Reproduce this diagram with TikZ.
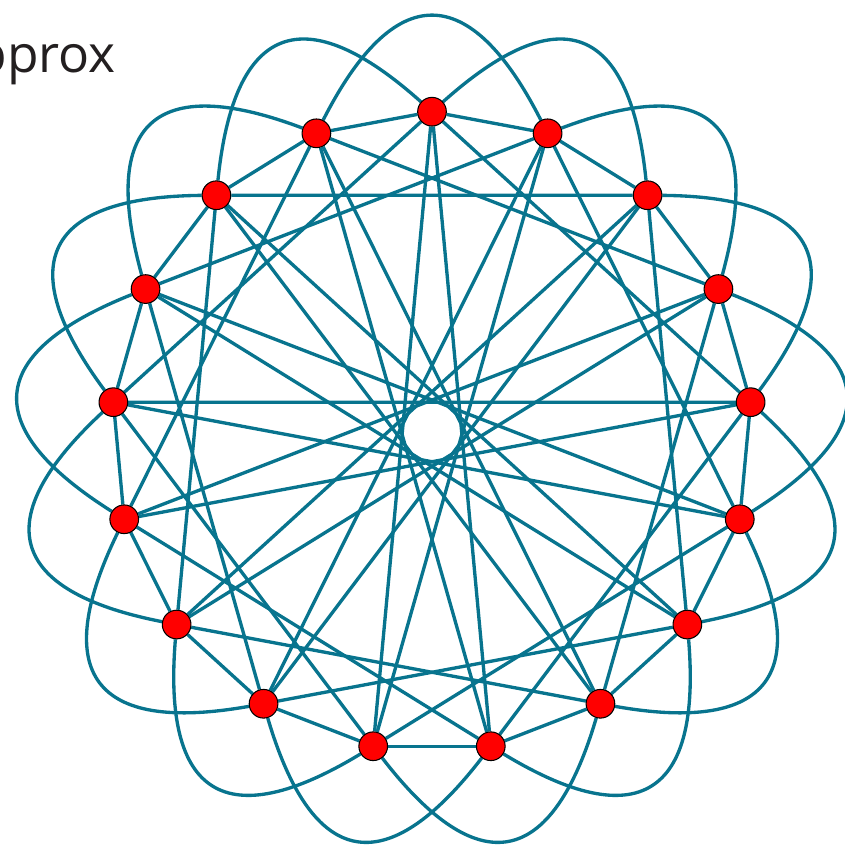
\documentclass[tikz,border=0pt]{standalone}
\usepackage{fontspec}
\setmainfont{Open Sans}
\usetikzlibrary{backgrounds}
\definecolor{edgeteal}{HTML}{08748E}
\definecolor{labelgray}{HTML}{231F20}

\begin{document}
\begin{tikzpicture}[x=0.03cm,y=0.03cm,
  vertex/.style={circle, draw=black, fill=red, line width=0.9pt,
                 minimum size=0.86cm, inner sep=0pt},
  link/.style={edgeteal, line width=0.1cm},
  petal/.style={link, bend left=63, looseness=1.85}]
  \useasboundingbox (-432,-415.3) rectangle (412,431.7);
  \node[font=\fontsize{44}{50}\selectfont, color=labelgray, anchor=base east,
        inner sep=0pt] (title) at (-316,358.7) {approx};
  \foreach \k in {0,...,16}
    \node[vertex] (v\k) at ({90-\k*360/17}:320) {};
  \begin{pgfonlayer}{background}
    \foreach \k in {0,...,16}{
      \pgfmathtruncatemacro{\a}{mod(\k+1,17)}
      \pgfmathtruncatemacro{\b}{mod(\k+4,17)}
      \pgfmathtruncatemacro{\c}{mod(\k+8,17)}
      \pgfmathtruncatemacro{\d}{mod(\k+2,17)}
      \draw[link] (v\k) -- (v\a);
      \draw[link] (v\k) -- (v\b);
      \draw[link] (v\k) -- (v\c);
      \draw[petal] (v\k) to (v\d);
    }
  \end{pgfonlayer}
\end{tikzpicture}
\end{document}
